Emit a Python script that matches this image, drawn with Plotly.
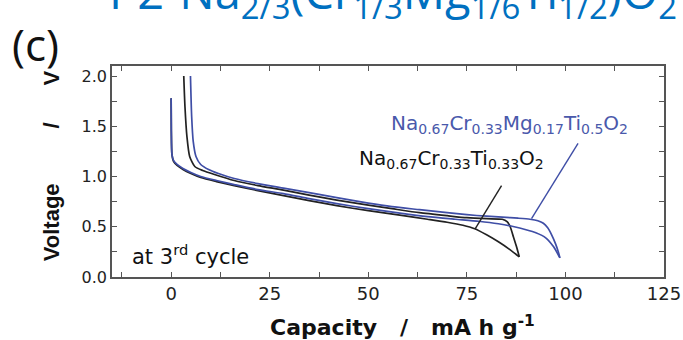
import plotly.graph_objects as go

# ---- data (capacity in mA h g-1, voltage in V) ----
blue_dis_x = [0, 0.05, 0.2, 0.6, 1.5, 3, 5, 7.5, 11.5, 16, 22, 28.5, 35, 42, 50, 58, 65, 72, 78, 83, 87, 90, 92.5, 95, 97, 98.6]
blue_dis_v = [1.78, 1.45, 1.22, 1.16, 1.12, 1.08, 1.04, 1.0, 0.96, 0.92, 0.87, 0.83, 0.78, 0.73, 0.68, 0.635, 0.60, 0.575, 0.555, 0.53, 0.50, 0.47, 0.44, 0.39, 0.30, 0.19]
blue_chg_x = [98.6, 98.2, 97.5, 96.5, 95.5, 94.4, 93, 91, 88, 84, 80, 75, 70, 63, 56, 50, 42, 35, 28.5, 22, 16, 12, 9.5, 7.5, 6.3, 5.6, 5.2, 4.9]
blue_chg_v = [0.19, 0.25, 0.33, 0.42, 0.49, 0.535, 0.56, 0.575, 0.585, 0.595, 0.605, 0.62, 0.64, 0.67, 0.70, 0.735, 0.79, 0.84, 0.885, 0.93, 0.98, 1.03, 1.07, 1.12, 1.2, 1.35, 1.6, 2.0]
black_dis_x = [0, 0.05, 0.2, 0.6, 1.5, 3, 5, 7.5, 11.5, 16, 22, 28.5, 35, 42, 50, 58, 65, 70, 74, 77, 80, 83, 86, 88.3]
black_dis_v = [1.78, 1.45, 1.22, 1.15, 1.11, 1.07, 1.03, 0.99, 0.95, 0.91, 0.86, 0.81, 0.76, 0.71, 0.66, 0.615, 0.575, 0.545, 0.515, 0.48, 0.42, 0.35, 0.27, 0.2]
black_chg_x = [88.3, 87.6, 86.8, 86, 85.2, 84, 80, 75, 70, 63, 56, 50, 42, 35, 28.5, 22, 16, 11, 8, 6, 4.7, 4, 3.5, 3.2]
black_chg_v = [0.2, 0.3, 0.4, 0.5, 0.55, 0.575, 0.58, 0.59, 0.61, 0.64, 0.68, 0.715, 0.765, 0.815, 0.865, 0.91, 0.96, 1.02, 1.06, 1.1, 1.2, 1.4, 1.7, 2.0]

x_ticks = [0, 25, 50, 75, 100, 125]
y_ticks = [0.0, 0.5, 1.0, 1.5, 2.0]

blue_label = "Na<sub>0.67</sub>Cr<sub>0.33</sub>Mg<sub>0.17</sub>Ti<sub>0.5</sub>O<sub>2</sub>"
black_label = "Na<sub>0.67</sub>Cr<sub>0.33</sub>Ti<sub>0.33</sub>O<sub>2</sub>"
blue_leader_x = [103.2, 91.4]
blue_leader_v = [1.33, 0.58]
black_leader_x = [83.8, 77.1]
black_leader_v = [0.91, 0.48]

BLUE = "#3f4ea6"
BLACK = "#222222"
FONT = "DejaVu Sans"
NB = "\u00a0"

fig = go.Figure()
for xs, vs, c in [(black_dis_x, black_dis_v, BLACK), (black_chg_x, black_chg_v, BLACK),
                  (blue_dis_x, blue_dis_v, BLUE), (blue_chg_x, blue_chg_v, BLUE)]:
    fig.add_trace(go.Scatter(x=xs, y=vs, mode="lines", line=dict(color=c, width=1.7, shape="spline", smoothing=0.6),
                             showlegend=False, hoverinfo="skip"))

fig.add_trace(go.Scatter(x=blue_leader_x, y=blue_leader_v, mode="lines", line=dict(color=BLUE, width=1.4),
                         showlegend=False, hoverinfo="skip"))
fig.add_trace(go.Scatter(x=black_leader_x, y=black_leader_v, mode="lines", line=dict(color=BLACK, width=1.4),
                         showlegend=False, hoverinfo="skip"))

axis_common = dict(showline=True, mirror="ticks", linecolor="#555555", linewidth=1.5,
                   ticks="inside", ticklen=5, tickcolor="#555555", tickwidth=1.2,
                   showgrid=False, zeroline=False, automargin=False)

fig.update_xaxes(range=[-15, 125], tickvals=x_ticks, ticktext=[str(t) for t in x_ticks],
                 minor=dict(ticks="inside", ticklen=5, dtick=12.5, tick0=0, tickcolor="#555555", tickwidth=1.2),
                 tickfont=dict(family=FONT, size=18, color="#222222"),
                 **axis_common)
fig.update_yaxes(range=[0, 2.1], tickvals=y_ticks, ticktext=[f"{t:.1f}" for t in y_ticks],
                 minor=dict(ticks="inside", ticklen=5, dtick=0.25, tick0=0, tickcolor="#555555", tickwidth=1.2),
                 tickfont=dict(family=FONT, size=16, color="#222222"),
                 **axis_common)

# axis titles
fig.add_annotation(x=0.527, y=-0.233, xref="paper", yref="paper",
                   text=f"<b>Capacity{NB*3}/{NB*3}mA h g<sup>-1</sup></b>", showarrow=False,
                   font=dict(family=FONT, size=22, color="#111111"), xanchor="center", yanchor="middle")
fig.add_annotation(x=-0.1105, y=0.525, xref="paper", yref="paper", textangle=-90,
                   text=f"<b>Voltage{NB*9}/{NB*6}V</b>", showarrow=False,
                   font=dict(family="Liberation Sans", size=22, color="#111111"), xanchor="center", yanchor="middle")

fig.add_annotation(x=85.9, y=1.52, xref="x", yref="y", text=blue_label, showarrow=False,
                   font=dict(family=FONT, size=20, color="#4a59ab"), xanchor="center", yanchor="middle")
fig.add_annotation(x=71.0, y=1.17, xref="x", yref="y", text=black_label, showarrow=False,
                   font=dict(family=FONT, size=20, color="#111111"), xanchor="center", yanchor="middle")
fig.add_annotation(x=-10.5, y=0.22, xref="x", yref="y", text="at 3<sup>rd</sup> cycle", showarrow=False,
                   font=dict(family=FONT, size=21, color="#111111"), xanchor="left", yanchor="middle")
fig.add_annotation(x=-0.185, y=1.104, xref="paper", yref="paper", text="(c)", showarrow=False,
                   font=dict(family="Open Sans", size=44, color="#111111"), xanchor="left", yanchor="middle")
fig.add_annotation(x=-0.009, y=1.166, xref="paper", yref="paper",
                   text="P2-Na<sub>2/3</sub>(Cr<sub>1/3</sub>Mg<sub>1/6</sub>Ti<sub>1/2</sub>)O<sub>2</sub>",
                   showarrow=False, font=dict(family="Open Sans", size=47, color="#0070c0"),
                   xanchor="left", yanchor="bottom")

fig.update_layout(width=683, height=340, margin=dict(l=112, r=19, t=66, b=63),
                  paper_bgcolor="white", plot_bgcolor="white", showlegend=False)

fig.write_html("out.html", config={"displayModeBar": False},
               post_script="document.body.style.margin='0';document.body.style.overflow='hidden';")
